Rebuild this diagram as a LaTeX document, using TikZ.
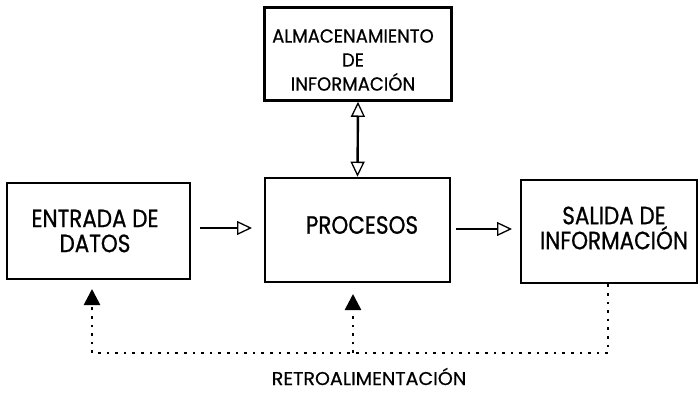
\documentclass[tikz,border=0pt]{standalone}
\usepackage{fontspec}
\setmainfont{Poppins}
\newfontfamily\boxfont[FakeStretch=0.86,FakeBold=0.8]{Poppins}
\newfontfamily\almfont[FakeStretch=0.95,FakeBold=0.6]{Poppins}
\newfontfamily\retfont[FakeStretch=1.03,FakeBold=0.6]{Poppins}
\usetikzlibrary{arrows.meta}
\begin{document}
\begin{tikzpicture}[x=1pt,y=-1pt,
  blk/.style={draw,line width=2.6pt,inner sep=0pt,align=center},
  lbl/.style={font=\boxfont\fontsize{25}{25}\selectfont,align=center},
  openarr/.style={line width=2pt,-{Triangle[open,length=15pt,width=14pt,line width=1.3pt]}},
  dblarr/.style={line width=2.4pt,{Triangle[open,length=15pt,width=14pt,line width=1.3pt]}-{Triangle[open,length=15pt,width=14pt,line width=1.3pt]}},
  fb/.style={line width=2.6pt,dash pattern=on 2.6pt off 6pt},
  fbarr/.style={line width=2.6pt,dash pattern=on 2.6pt off 6pt,-{Triangle[length=16pt,width=16pt]}}]
\useasboundingbox (0,0) rectangle (699,393);
\node[blk,minimum width=183pt,minimum height=96pt] (ent) at (98.5,231) {};
\node[lbl] at (95,231) {ENTRADA DE\\DATOS};
\node[blk,minimum width=185pt,minimum height=104pt] (pro) at (357.5,230) {};
\node[lbl] at (362,225) {PROCESOS};
\node[blk,minimum width=176pt,minimum height=103pt] (sal) at (609,231.5) {};
\node[lbl] at (614,228) {SALIDA DE\\INFORMACIÓN};
\node[blk,minimum width=187pt,minimum height=93pt] (alm) at (358,54) {};
\node[font=\almfont\fontsize{19}{24}\selectfont,align=center] at (353,60) {ALMACENAMIENTO\\DE\\INFORMACIÓN};
\draw[dblarr] (alm.south) -- (pro.north);
\coordinate (a1) at (200,228);
\coordinate (a2) at (252,228);
\coordinate (b1) at (456,229);
\coordinate (b2) at (512,229);
\draw[openarr] (a1) -- (a2);
\draw[openarr] (b1) -- (b2);
\coordinate (fl) at (92,353);
\coordinate (fm) at (353,353);
\coordinate (fr) at (608,353);
\coordinate (tl) at (92,289);
\coordinate (tm) at (353,294);
\draw[fb] (sal.south -| fr) -- (fr) -- (fl);
\draw[fbarr] (fl) -- (tl);
\draw[fbarr] (fm) -- (tm);
\node[font=\retfont\fontsize{18.5}{20}\selectfont,inner sep=0pt,anchor=base] (ret) at (369,385) {RETROALIMENTACIÓN};
\end{tikzpicture}
\end{document}
